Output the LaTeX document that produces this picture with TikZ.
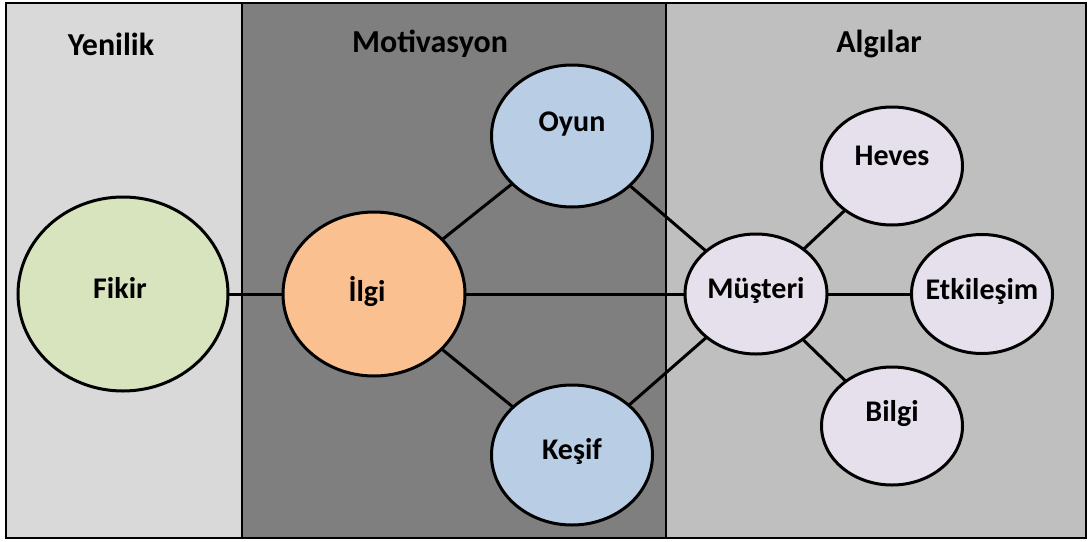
\documentclass[tikz,border=0pt]{standalone}
\usepackage{fontspec}
\setmainfont{Carlito}
\usetikzlibrary{shapes.geometric}
\definecolor{panelA}{HTML}{D9D9D9}
\definecolor{panelB}{HTML}{7F7F7F}
\definecolor{panelC}{HTML}{BFBFBF}
\definecolor{idea}{HTML}{D7E4BD}
\definecolor{interest}{HTML}{FAC090}
\definecolor{motive}{HTML}{B9CDE5}
\definecolor{percept}{HTML}{E6E0EC}
\tikzset{
  panel/.style={draw=black, line width=2pt},
  title/.style={font=\fontsize{32}{38}\selectfont\bfseries, anchor=center},
  bubble/.style={ellipse, draw=black, line width=3pt, inner sep=0pt, outer sep=0pt},
  tag/.style={font=\fontsize{30}{36}\selectfont\bfseries},
  link/.style={draw=black, line width=3pt},
}
\begin{document}
\begin{tikzpicture}[x=1pt,y=-1pt]
\useasboundingbox (0,0) rectangle (1089,541);
% three columns
\filldraw[panel, fill=panelA] (6,3) rectangle (242,538);
\filldraw[panel, fill=panelB] (242,3) rectangle (666,538);
\filldraw[panel, fill=panelC] (666,3) rectangle (1086,538);
% column headings
\node[title] (tYen) at (111,44) {Yenilik};
\node[title] (tMot) at (430,44) {Motivasyon};
\node[title] (tAlg) at (879,44) {Algılar};
% bubbles
\node[bubble, fill=idea, minimum width=210, minimum height=194,
  label={[tag, yshift=6, xshift=-3]center:Fikir}] (fikir) at (123,294) {};
\node[bubble, fill=interest, minimum width=182, minimum height=164,
  label={[tag, yshift=3, xshift=-7]center:İlgi}] (ilgi) at (374,294) {};
\node[bubble, fill=motive, minimum width=161, minimum height=142,
  label={[tag, yshift=12]center:Oyun}] (oyun) at (572,136) {};
\node[bubble, fill=motive, minimum width=161, minimum height=140,
  label={[tag, yshift=4]center:Keşif}] (kesif) at (572,455) {};
\node[bubble, fill=percept, minimum width=142, minimum height=120,
  label={[tag, yshift=4]center:Müşteri}] (musteri) at (756,294) {};
\node[bubble, fill=percept, minimum width=141, minimum height=118,
  label={[tag, yshift=10]center:Heves}] (heves) at (892,166) {};
\node[bubble, fill=percept, minimum width=141, minimum height=119,
  label={[tag, yshift=3]center:Etkileşim}] (etk) at (982,294) {};
\node[bubble, fill=percept, minimum width=141, minimum height=118,
  label={[tag, yshift=12]center:Bilgi}] (bilgi) at (892,426) {};
% connectors
\draw[link] (fikir) -- (ilgi);
\draw[link] (ilgi) -- (oyun);
\draw[link] (ilgi) -- (kesif);
\draw[link] (ilgi) -- (musteri);
\draw[link] (oyun) -- (musteri);
\draw[link] (kesif) -- (musteri);
\draw[link] (musteri) -- (heves);
\draw[link] (musteri) -- (etk);
\draw[link] (musteri) -- (bilgi);
\end{tikzpicture}
\end{document}
